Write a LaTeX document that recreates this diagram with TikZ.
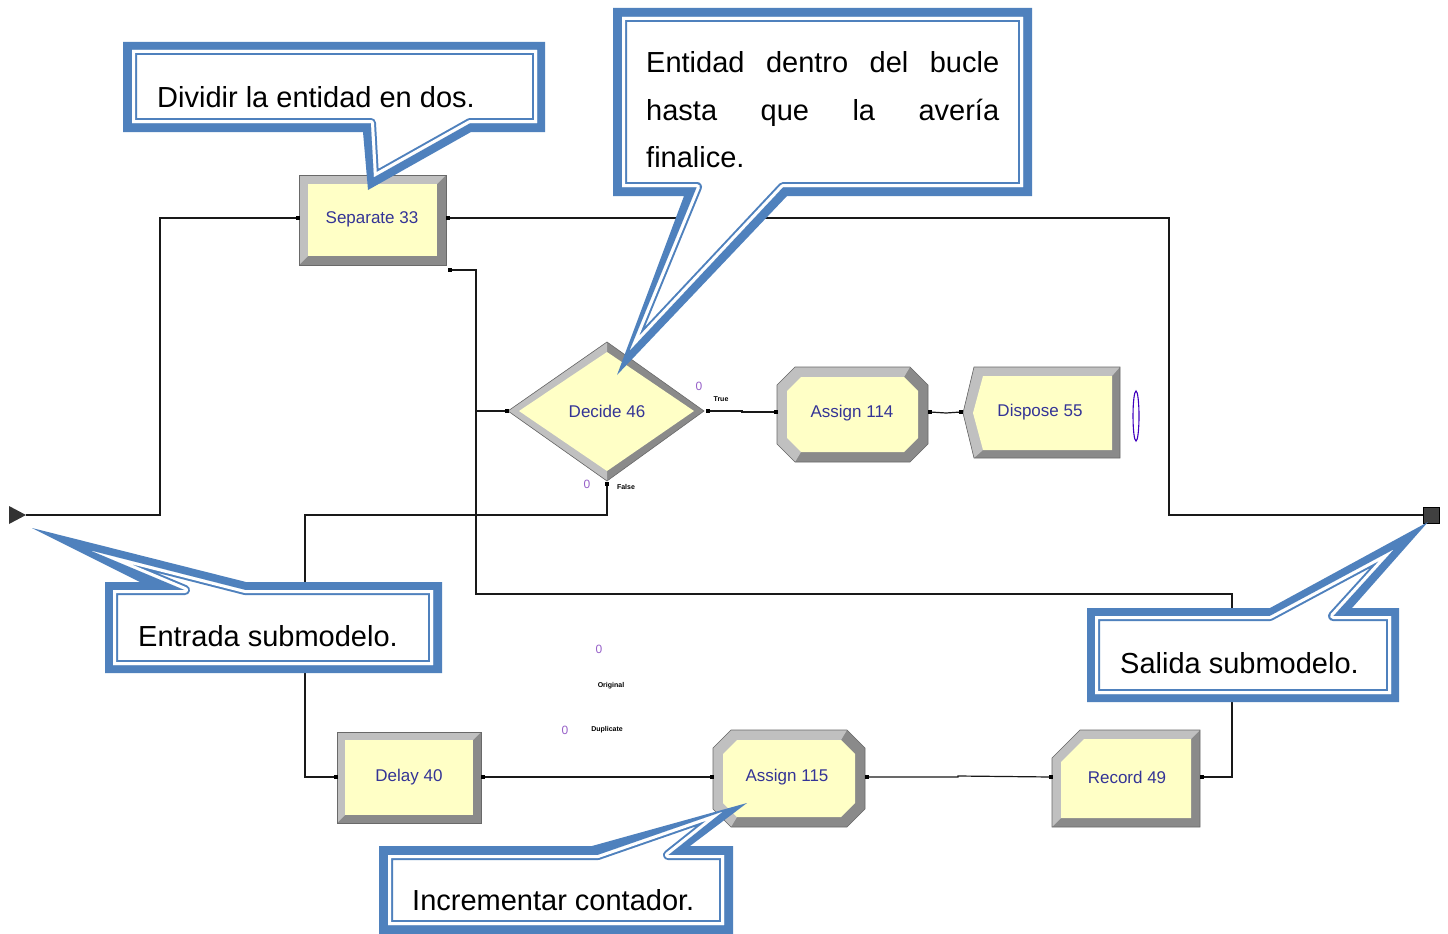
\documentclass[tikz,border=0pt]{standalone}
\usepackage{fontspec}
\setmainfont{Liberation Sans}
\usetikzlibrary{calc}

\definecolor{cblue}{RGB}{79,129,189}
\definecolor{bevlight}{RGB}{192,192,192}
\definecolor{bevdark}{RGB}{138,138,138}
\definecolor{bevline}{RGB}{105,105,105}
\definecolor{blockfill}{RGB}{255,255,198}
\definecolor{blocktxt}{RGB}{52,52,150}
\definecolor{countc}{RGB}{150,95,200}
\definecolor{wirec}{RGB}{25,25,25}

% Arena-style bevelled module: #1 outer outline, #2 inner face, #3 clip of the lit part
\newcommand\arenablock[3]{%
  \fill[bevdark] #1 -- cycle;
  \begin{scope}\clip #3 -- cycle; \fill[bevlight] #1 -- cycle;\end{scope}
  \fill[blockfill] #2 -- cycle;
  \draw[bevline, line width=0.6] #1 -- cycle;}

% thick-thin framed callout: #1 outer outline, #2 inner edge of the thick band
\newcommand\callout[2]{%
  \fill[cblue] #1 -- cycle;
  \fill[white] #2 -- cycle;
  \begin{scope}
    \clip #2 -- cycle;
    \draw[cblue, line width=10, line join=round] #2 -- cycle;
    \draw[white, line width=6, line join=round] #2 -- cycle;
  \end{scope}}

\begin{document}
\begin{tikzpicture}[x=1pt, y=-1pt,
  blocklabel/.style={font=\fontsize{17}{19}\selectfont, text=blocktxt, inner sep=0pt},
  calltext/.style={font=\fontsize{29}{34}\selectfont, anchor=base west, inner sep=0pt},
  wire/.style={draw=wirec, line width=1.2},
  portmark/.style={fill=black, minimum size=4pt, inner sep=0pt},
  tinylabel/.style={font=\fontsize{7}{8}\selectfont\bfseries, inner sep=0pt},
  counter/.style={font=\fontsize{12}{12}\selectfont, text=countc, inner sep=0pt}]

\useasboundingbox (0,0) rectangle (1448,934);
\fill[white] (0,0) rectangle (1448,934);

% ---------- modules ----------
% Separate 33
\arenablock{(299,175) -- (446,175) -- (446,265) -- (299,265)}
           {(308,184) -- (437,184) -- (437,256) -- (308,256)}
           {(299,265) -- (308,256) -- (437,184) -- (446,175) -- (446,140) -- (260,140) -- (260,265)}
\node[blocklabel] (sep) at (372,219) {Separate 33};

% Decide 46
\arenablock{(508,411) -- (607,342) -- (704,411) -- (607,481)}
           {(519,411) -- (607,352) -- (694,411) -- (607,471)}
           {(607,330) -- (607,495) -- (490,495) -- (490,330)}
\node[blocklabel] (dec) at (607,411) {Decide 46};

% Assign 114
\arenablock{(795,367) -- (910,367) -- (928,385) -- (928,444) -- (910,462) -- (795,462) -- (777,444) -- (777,385)}
           {(801,377) -- (904,377) -- (918,391) -- (918,438) -- (904,452) -- (801,452) -- (787,438) -- (787,391)}
           {(795,462) -- (801,452) -- (904,377) -- (910,367) -- (910,330) -- (740,330) -- (740,500) -- (795,500)}
\node[blocklabel] (a114) at (852,413) {Assign 114};

% Dispose 55
\arenablock{(974,367) -- (1120,367) -- (1120,458) -- (974,458) -- (963,413)}
           {(983,376) -- (1112,376) -- (1112,450) -- (983,450) -- (973,413)}
           {(974,458) -- (983,450) -- (1112,376) -- (1120,367) -- (1120,330) -- (940,330) -- (940,500) -- (974,500)}
\node[blocklabel] (disp) at (1040,412) {Dispose 55};
\draw[draw=blue!75!red, line width=1.1] (1136,416) ellipse [x radius=3, y radius=25];

% Delay 40
\arenablock{(337,732) -- (481,732) -- (481,823) -- (337,823)}
           {(345,740) -- (473,740) -- (473,815) -- (345,815)}
           {(337,823) -- (345,815) -- (473,740) -- (481,732) -- (481,700) -- (300,700) -- (300,823)}
\node[blocklabel] (delay) at (409,777) {Delay 40};

% Assign 115
\arenablock{(731,730) -- (847,730) -- (865,748) -- (865,809) -- (847,827) -- (731,827) -- (713,809) -- (713,748)}
           {(737,740) -- (841,740) -- (855,754) -- (855,803) -- (841,817) -- (737,817) -- (723,803) -- (723,754)}
           {(731,827) -- (737,817) -- (841,740) -- (847,730) -- (847,700) -- (680,700) -- (680,860) -- (731,860)}
\node[blocklabel] (a115) at (787,777) {Assign 115};

% Record 49
\arenablock{(1080,730) -- (1200,730) -- (1200,827) -- (1052,827) -- (1052,758)}
           {(1084,739) -- (1191,739) -- (1191,818) -- (1061,818) -- (1061,762)}
           {(1052,827) -- (1061,818) -- (1191,739) -- (1200,730) -- (1200,700) -- (1020,700) -- (1020,827)}
\node[blocklabel] (rec) at (1127,777) {Record 49};

% ---------- entry and exit points ----------
\coordinate (entry) at (26,515);
\fill[black!80] (9,506) -- (entry) -- (9,524) -- cycle;
\node[draw=black, fill=black!75, line width=0.8, minimum size=16pt, inner sep=0pt] (exit) at (1431,515) {};

% ---------- ports ----------
\coordinate (sep-in) at (298,218);
\coordinate (sep-out1) at (448,218);
\coordinate (sep-out2) at (450,270);
\coordinate (dec-in) at (507,411);
\coordinate (dec-true) at (708,411);
\coordinate (dec-false) at (607,484);
\coordinate (a114-in) at (776,412);
\coordinate (a114-out) at (930,412);
\coordinate (disp-in) at (961,412);
\coordinate (delay-in) at (336,777);
\coordinate (delay-out) at (483,777);
\coordinate (a115-in) at (712,777);
\coordinate (a115-out) at (867,777);
\coordinate (rec-in) at (1051,777);
\coordinate (rec-out) at (1202,777);

% ---------- connectors ----------
\draw[wire] (entry) -- (160,515) |- (sep-in);
\draw[wire] (sep-out1) -- (1169,218) |- (exit.west);
\draw[wire] (sep-out2) -- (476,270) |- (dec-in);
\draw[wire] (rec-out) -- (1232,777) -- (1232,594) -| (476,411);
\draw[wire] (dec-true) -- (742,411) -- (742,412) -- (a114-in);
\draw[wire] (a114-out) -- (946,413) -- (disp-in);
\draw[wire] (dec-false) -- (607,515) -| (305,777) -- (delay-in);
\draw[wire] (delay-out) -- (a115-in);
\draw[wire] (a115-out) -- (958,777) -- (958,776) -- (rec-in);

\foreach \p in {sep-in,dec-in,a114-in,disp-in,delay-in,a115-in,rec-in,
                sep-out1,sep-out2,dec-true,dec-false,a114-out,delay-out,a115-out,rec-out}
  \node[portmark] at (\p) {};

% ---------- branch labels and counters ----------
\node[tinylabel] (lbl-true) at (721,399) {True};
\node[tinylabel] (lbl-false) at (626,487) {False};
\node[tinylabel] (lbl-orig) at (611,686) {Original};
\node[tinylabel] (lbl-dup) at (607,730) {Duplicate};
\node[counter] (cnt-true) at (699,386) {0};
\node[counter] (cnt-false) at (587,484) {0};
\node[counter] (cnt-orig) at (599,649) {0};
\node[counter] (cnt-dup) at (565,730) {0};

% ---------- callouts ----------
\callout{(123,42) -- (545,42) -- (545,132) -- (471,132) -- (368,190) -- (363,132) -- (123,132)}
        {(132,50) -- (537,50) -- (537,123) -- (470,123) -- (374,177) -- (371,123) -- (132,123)}
\node[calltext] (txt-sep) at (157,107) {Dividir la entidad en dos.};

\callout{(613,8) -- (1032,8) -- (1032,196) -- (787,196) -- (617,375) -- (684,196) -- (613,196)}
        {(622,17) -- (1023,17) -- (1023,187) -- (783,187) -- (630,350) -- (697,187) -- (622,187)}
\node[calltext] (txt-loop1) at (646,72) {\makebox[353pt][l]{Entidad\hfill dentro\hfill del\hfill bucle}};
\node[calltext] (txt-loop2) at (646,120) {\makebox[353pt][l]{hasta\hfill que\hfill la\hfill avería}};
\node[calltext] (txt-loop3) at (646,167) {finalice.};

\callout{(105,582) -- (140,582) -- (32,528) -- (246,582) -- (442,582) -- (442,673) -- (105,673)}
        {(113,590) -- (185,590) -- (92,551) -- (245,590) -- (433,590) -- (433,665) -- (113,665)}
\node[calltext] (txt-in) at (138,646) {Entrada submodelo.};

\callout{(1087,608) -- (1270,608) -- (1428,522) -- (1352,608) -- (1399,608) -- (1399,702) -- (1087,702)}
        {(1095,616) -- (1270,616) -- (1393,550) -- (1333,616) -- (1391,616) -- (1391,694) -- (1095,694)}
\node[calltext] (txt-out) at (1120,673) {Salida submodelo.};

\callout{(379,846) -- (592,846) -- (747,803) -- (690,846) -- (733,846) -- (733,934) -- (379,934)}
        {(388,855) -- (598,855) -- (722,812) -- (668,855) -- (724,855) -- (724,925) -- (388,925)}
\node[calltext] (txt-cnt) at (412,910) {Incrementar contador.};

\end{tikzpicture}
\end{document}
